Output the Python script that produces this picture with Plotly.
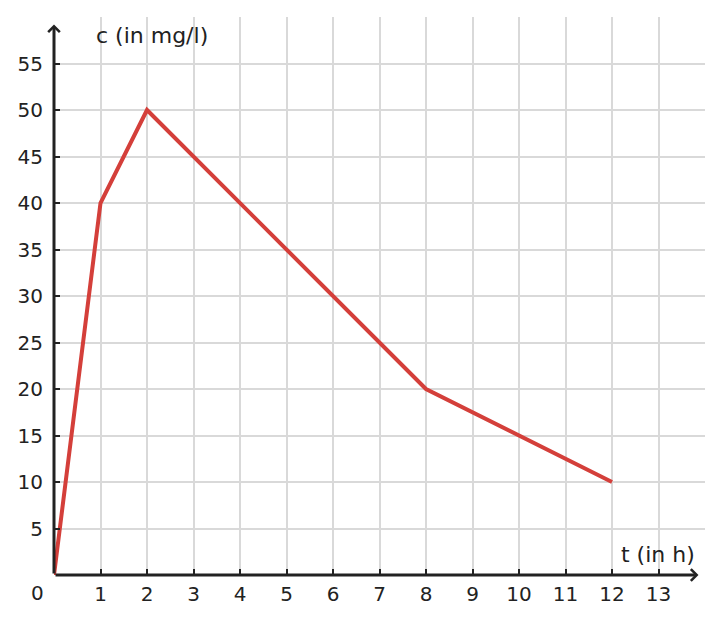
import plotly.graph_objects as go

t_values = [0, 1, 2, 8, 12]
c_values = [0, 40, 50, 20, 10]
x_ticks = list(range(0, 14))
x_tick_labels = [""] + [str(i) for i in range(1, 14)]
y_ticks = list(range(0, 60, 5))
y_tick_labels = [""] + [str(v) for v in range(5, 60, 5)]

FONT = "DejaVu Sans"
DARK = "#222222"

fig = go.Figure()
fig.add_trace(go.Scatter(
    x=t_values, y=c_values, mode="lines",
    line=dict(color="#d43f3a", width=4),
    cliponaxis=False, hoverinfo="skip",
))

axis_common = dict(
    showgrid=True, gridcolor="#d9d9d9", gridwidth=2,
    zeroline=False, showline=False,
    ticks="inside", ticklen=6, tickwidth=2, tickcolor=DARK,
    tickfont=dict(family=FONT, size=20, color=DARK),
    fixedrange=True, automargin=False,
)

fig.update_layout(
    width=706, height=607,
    margin=dict(l=46, r=9, t=9, b=40),
    paper_bgcolor="white", plot_bgcolor="white",
    showlegend=False,
    xaxis=dict(range=[0, 14], tickmode="array", tickvals=x_ticks,
               ticktext=x_tick_labels, ticklabelstandoff=5, **axis_common),
    yaxis=dict(range=[0, 60], tickmode="array", tickvals=y_ticks,
               ticktext=y_tick_labels, ticklabelstandoff=10, **axis_common),
)

# axes with arrows
fig.add_annotation(x=13.86, y=0, ax=0, ay=0, xref="x", yref="y", axref="x", ayref="y",
                   text="", showarrow=True, arrowhead=4, arrowwidth=3, arrowsize=0.75,
                   arrowcolor=DARK)
fig.add_annotation(x=0, y=59.2, ax=0, ay=0, xref="x", yref="y", axref="x", ayref="y",
                   text="", showarrow=True, arrowhead=4, arrowwidth=3, arrowsize=0.75,
                   arrowcolor=DARK)

# labels
fig.add_annotation(x=0.86, y=58.0, xref="x", yref="y", text="c (in mg/l)",
                   showarrow=False, xanchor="left", yanchor="middle",
                   font=dict(family=FONT, size=22, color=DARK))
fig.add_annotation(x=13.82, y=2.2, xref="x", yref="y", text="t (in h)",
                   showarrow=False, xanchor="right", yanchor="middle",
                   font=dict(family=FONT, size=22, color=DARK))
fig.add_annotation(x=-0.026, y=-0.032, xref="paper", yref="paper", text="0",
                   showarrow=False, xanchor="center", yanchor="middle",
                   font=dict(family=FONT, size=20, color=DARK))

fig.write_html("out.html")
